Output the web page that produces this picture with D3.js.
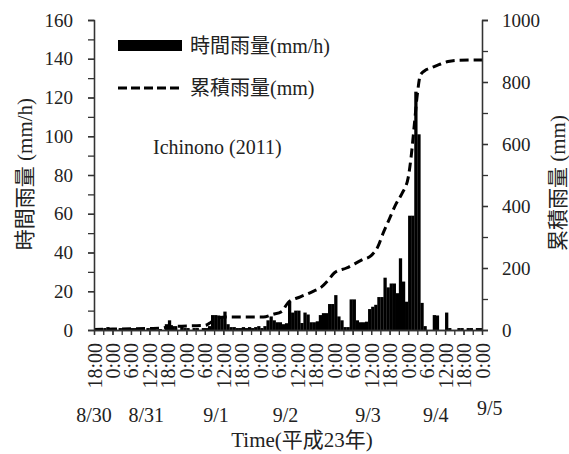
<!DOCTYPE html>
<html>
<head>
<meta charset="utf-8">
<script src="https://cdn.jsdelivr.net/npm/d3@7"></script>
<style>
  html, body { margin: 0; padding: 0; background: #fff; }
  svg { display: block; }
  text { font-family: "Liberation Serif", "Noto Sans CJK JP", serif; fill: #222; }
</style>
</head>
<body>
<svg id="chart" width="569" height="454"></svg>
<script>
// ---- data (hour 0 = 8/30 18:00) ----
const hourlyRain = [
  1, 0.5, 0, 1, 1.5, 1, 0.5, 0, 1, 1, 0.5, 0, 1, 1, 0.5, 0, 0, 1, 1, 0.5,
  0, 0.5, 0, 3, 5, 2, 2, 0, 2, 1, 1, 0, 1, 1, 0, 1, 1, 2, 7.7, 7.7,
  7.5, 7, 9.5, 3, 1.5, 1.5, 1, 1, 1.5, 1, 1.5, 1, 1.5, 2, 1, 2, 5, 7, 5, 4,
  4, 3, 3.5, 14.6, 9, 10, 10, 3.6, 9, 8, 4, 4, 4.5, 7.7, 8.7, 8.7, 13.4, 13.4, 18, 7,
  5, 1.5, 1.5, 15.8, 15.8, 5, 4, 4, 4.3, 10.8, 12, 13, 17, 17, 27, 22, 24, 24, 19, 37,
  25, 14.6, 59, 59, 123, 101, 14, 2, 0, 0, 7.7, 7.5, 0, 0, 9, 1, 0, 0, 1, 1,
  0, 1, 1, 0, 1, 1
];
const cumHours  = [0, 6, 12, 18, 22, 24, 27, 36, 38, 40, 43, 55, 58, 61, 63, 67, 71, 74, 76, 78, 82, 87, 90, 92, 94, 96, 98, 100, 102, 103, 104, 105, 106, 108, 110, 112, 115, 118, 126];
const cumValues = [2, 3, 4, 5, 6, 10, 12, 15, 25, 38, 42, 42, 50, 60, 88, 107, 124, 140, 160, 184, 200, 226, 240, 265, 315, 360, 405, 440, 490, 560, 660, 760, 823, 840, 848, 856, 866, 870, 871];

const xTickHours  = [0, 6, 12, 18, 24, 30, 36, 42, 48, 54, 60, 66, 72, 78, 84, 90, 96, 102, 108, 114, 120, 126];
const xTickLabels = ["18:00","0:00","6:00","12:00","18:00","0:00","6:00","12:00","18:00","0:00","6:00","12:00","18:00","0:00","6:00","12:00","18:00","0:00","6:00","12:00","18:00","0:00"];
const dateLabels  = ["8/30","8/31","9/1","9/2","9/3","9/4","9/5"];
const dateHours   = [0, 17, 39.6, 62.2, 89, 111, 128.5];
const leftTicks   = [0, 20, 40, 60, 80, 100, 120, 140, 160];
const rightTicks  = [0, 200, 400, 600, 800, 1000];
const legendLabels = ["時間雨量(mm/h)", "累積雨量(mm)"];
const stationLabel = "Ichinono (2011)";

// ---- layout ----
const FONT = '"Liberation Serif", "Noto Sans CJK JP", serif';
const svg = d3.select("#chart");
const x0 = 94, x1 = 482, yTop = 20, yBot = 330;
const x = d3.scaleLinear().domain([0, 126]).range([x0, x1]);
const yL = d3.scaleLinear().domain([0, 160]).range([yBot, yTop]);
const yR = d3.scaleLinear().domain([0, 1000]).range([yBot, yTop]);
const axisColor = "#333";

// bars
svg.append("g").selectAll("rect").data(hourlyRain).join("rect")
  .attr("x", (d, i) => x(i))
  .attr("width", (d, i) => x(i + 1) - x(i) + 0.2)
  .attr("y", d => yL(d))
  .attr("height", d => yBot - yL(d))
  .attr("fill", "#000");

// cumulative line
const cum = cumHours.map((h, i) => [h, cumValues[i]]);
svg.append("path")
  .datum(cum)
  .attr("fill", "none")
  .attr("stroke", "#000")
  .attr("stroke-width", 3)
  .attr("stroke-dasharray", "9,5")
  .attr("d", d3.line().x(d => x(d[0])).y(d => yR(d[1])).curve(d3.curveMonotoneX));

function styleAxis(g) {
  g.attr("font-family", FONT);
  g.selectAll("path, line").attr("stroke", axisColor).attr("stroke-width", 1.3);
  g.selectAll("text").attr("fill", "#222").attr("font-family", FONT).style("font-family", FONT);
}

// left axis: minor then major
svg.append("g").attr("transform", `translate(${x0},0)`)
  .call(d3.axisLeft(yL).tickValues(d3.range(0, 161, 10)).tickSize(6).tickFormat(""))
  .call(styleAxis);
svg.append("g").attr("transform", `translate(${x0},0)`)
  .call(d3.axisLeft(yL).tickValues(leftTicks).tickSize(6).tickPadding(15).tickSizeOuter(0).tickFormat(d3.format("d")))
  .call(styleAxis)
  .call(g => g.selectAll("text").style("font-size", "19px"));

// right axis
svg.append("g").attr("transform", `translate(${x1},0)`)
  .call(d3.axisRight(yR).tickValues(d3.range(0, 1001, 100)).tickSize(6).tickFormat(""))
  .call(styleAxis);
svg.append("g").attr("transform", `translate(${x1},0)`)
  .call(d3.axisRight(yR).tickValues(rightTicks).tickSize(6).tickPadding(14).tickSizeOuter(0).tickFormat(d3.format("d")))
  .call(styleAxis)
  .call(g => g.selectAll("text").style("font-size", "19px"));

// x axis
svg.append("g").attr("transform", `translate(0,${yBot})`)
  .call(d3.axisBottom(x).tickValues(d3.range(0, 127, 3)).tickSize(5).tickFormat("").tickSizeOuter(0))
  .call(styleAxis);
svg.append("g").attr("transform", `translate(0,${yBot})`)
  .call(d3.axisBottom(x).tickValues(xTickHours).tickSize(5).tickSizeOuter(0)
        .tickFormat((d, i) => xTickLabels[i]))
  .call(styleAxis)
  .call(g => g.selectAll("text")
    .style("font-size", "20px")
    .attr("text-anchor", "end")
    .attr("dy", "0.35em")
    .attr("transform", "translate(0,13) rotate(-90)")
    .attr("x", 0).attr("y", 0));

// date labels
svg.append("g").selectAll("text").data(dateLabels).join("text")
  .attr("x", (d, i) => x(dateHours[i]))
  .attr("y", (d, i) => i === dateLabels.length - 1 ? 415 : 422)
  .attr("text-anchor", "middle")
  .style("font-size", "20px")
  .text(d => d);

// axis titles
svg.append("text")
  .attr("x", 302).attr("y", 447)
  .attr("text-anchor", "middle")
  .style("font-size", "21px")
  .text("Time(平成23年)");
svg.append("text")
  .attr("transform", "translate(32,174) rotate(-90)")
  .attr("text-anchor", "middle")
  .style("font-size", "21px")
  .text("時間雨量 (mm/h)");
svg.append("text")
  .attr("transform", "translate(565,183) rotate(-90)")
  .attr("text-anchor", "middle")
  .style("font-size", "21px")
  .text("累積雨量 (mm)");

// legend
const lg = svg.append("g");
lg.append("rect").attr("x", 118).attr("y", 40).attr("width", 64).attr("height", 11).attr("fill", "#000");
lg.append("line").attr("x1", 118).attr("x2", 183).attr("y1", 88).attr("y2", 88)
  .attr("stroke", "#000").attr("stroke-width", 3).attr("stroke-dasharray", "9,4");
lg.selectAll("text").data(legendLabels).join("text")
  .attr("x", 190).attr("y", (d, i) => i === 0 ? 46 : 88)
  .attr("dy", "0.35em")
  .style("font-size", "20px")
  .text(d => d);

// station label
svg.append("text")
  .attr("x", 153).attr("y", 154)
  .style("font-size", "20px")
  .text(stationLabel);
</script>
</body>
</html>
